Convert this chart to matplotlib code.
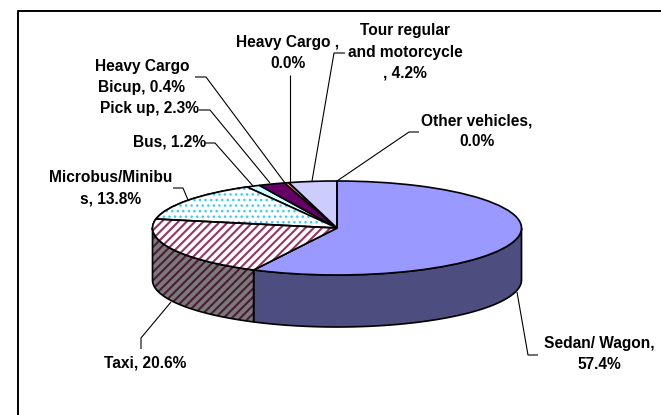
import numpy as np
import matplotlib
matplotlib.use("Agg")
import matplotlib.pyplot as plt
from matplotlib.patches import PathPatch, Polygon

plt.rcParams['font.family'] = ['Liberation Sans', 'DejaVu Sans']

categories = ["Sedan/ Wagon", "Taxi", "Microbus/Minibus", "Bus", "Pick up",
              "Heavy Cargo Bicup", "Heavy Cargo", "Tour regular and motorcycle", "Other vehicles"]
shares = [57.4, 20.6, 13.8, 1.2, 2.3, 0.4, 0.0, 4.2, 0.0]
label_texts = ["Sedan/ Wagon,\n57.4%", "Taxi, 20.6%", "Microbus/Minibu\ns, 13.8%", "Bus, 1.2%",
               "Pick up, 2.3%", "Heavy Cargo\nBicup, 0.4%", "Heavy Cargo ,\n0.0%",
               "Tour regular\nand motorcycle\n, 4.2%", "Other vehicles,\n0.0%"]
top_colors = ["#9999FF", "#FFFFFF", "#FFFFFF", "#CCFFFF", "#660066", "#FF8080", "#FFFFFF", "#CCCCFF", "#FFFFFF"]
hatch_colors = [None, "#993366", "#33CCFF", None, None, None, None, None, None]
hatches = [None, "////", "...", None, None, None, None, None, None]
hatch_widths = [None, 1.5, 1.0, None, None, None, None, None, None]

W, H = 661, 415
CX, CY, RX, RY, DEPTH = 337, 228, 184.5, 47, 52

fig = plt.figure(figsize=(W/100, H/100), dpi=100)
ax = fig.add_axes([0, 0, 1, 1])
ax.set_axis_off()

def pts(px, py):
    return (px - CX) / RX, (CY - py) / RY

# Frame: only the top and left edges fall inside the image
frame = np.array([pts(18, H + 5), pts(18, 11), pts(W + 5, 11)])
ax.plot(frame[:, 0], frame[:, 1], color="black", lw=1.4, zorder=1, solid_capstyle="butt")

wedges, _ = ax.pie(shares, startangle=90, counterclock=False, radius=1, center=(0, 0),
                   colors=top_colors, wedgeprops=dict(ec="black", lw=1.2), frame=False)
for w, h, hc, hw in zip(wedges, hatches, hatch_colors, hatch_widths):
    w.set_zorder(3)
    if h:
        with plt.rc_context({"hatch.linewidth": hw}):
            ax.add_patch(PathPatch(w.get_path(), transform=w.get_transform(), fc="white", ec=hc,
                                   hatch=h, lw=0, zorder=3.1))
        ax.add_patch(PathPatch(w.get_path(), transform=w.get_transform(), fc="none", ec="black",
                               lw=1.2, zorder=3.2))

# Side wall of the visible front half
d = DEPTH / RY
cum = np.cumsum([0] + shares) / sum(shares) * 360
for i in range(2):
    a0, a1 = max(cum[i], 90), min(cum[i + 1], 270)
    t = np.radians(np.linspace(a0, a1, 80))
    x, y = np.sin(t), np.cos(t)
    xy = np.r_[np.c_[x, y], np.c_[x, y - d][::-1]]
    if i == 0:
        ax.add_patch(Polygon(xy, closed=True, zorder=2, fc="#4D4D80", ec="none"))
    else:
        with plt.rc_context({"hatch.linewidth": 1.5}):
            ax.add_patch(Polygon(xy, closed=True, zorder=2, fc="#7A7A7A", ec="#4D1A33", hatch="////", lw=0))
    ax.add_patch(Polygon(xy, closed=True, zorder=2.1, fc="none", ec="black", lw=1.2))

leaders = [[(517, 292), (528, 355), (538, 355)], [(171, 302), (141, 338), (141, 349)],
           [(173, 188), (183, 188), (188, 200)],
           [(205, 143), (215, 143), (253, 186)], [(199, 110), (210, 110), (270, 183)],
           [(195, 77), (206, 77), (285, 183)], [(290, 75), (290, 183)],
           [(345, 53), (334, 53), (312, 181)], [(419, 132), (409, 132), (337, 181)]]
for seg in leaders:
    p = np.array([pts(*q) for q in seg])
    ax.plot(p[:, 0], p[:, 1], color="black", lw=0.8, zorder=4, solid_capstyle="butt")

label_xy = [(599, 354), (145, 363), (111, 188), (170, 142), (149.5, 109), (142, 77),
            (288, 53), (405, 52), (477, 131.5)]
for txt, (px, py) in zip(label_texts, label_xy):
    x, y = pts(px, py)
    ax.text(x, y, txt, ha="center", va="center", fontsize=11.2, fontweight="bold", color="black",
            linespacing=1.5, zorder=5)

ax.set_aspect("auto")
ax.set_xlim((0 - CX) / RX, (W - CX) / RX)
ax.set_ylim((CY - H) / RY, (CY - 0) / RY)
fig.savefig("out.png", dpi=100)
